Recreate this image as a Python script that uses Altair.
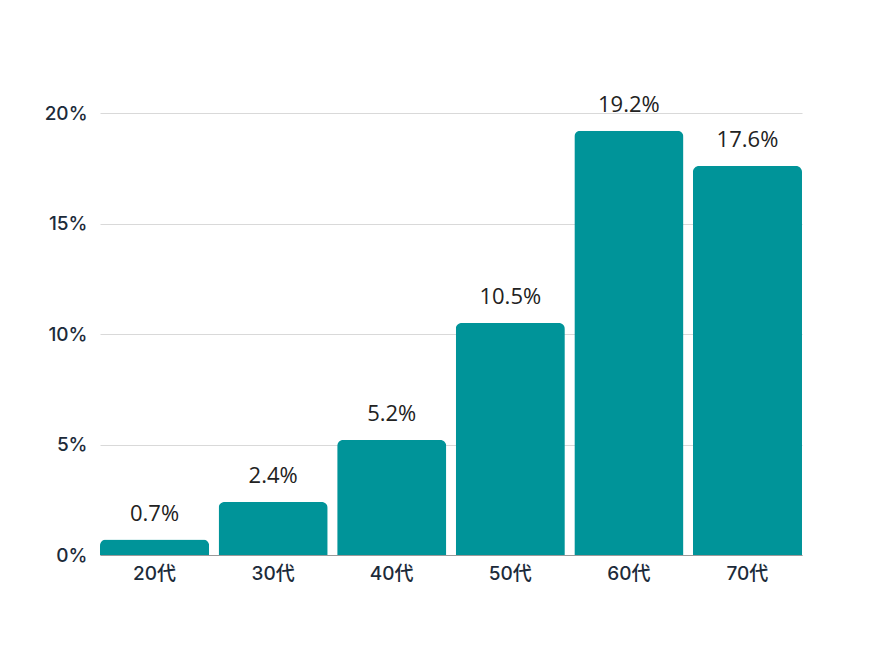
import altair as alt
import pandas as pd

categories = ["20代", "30代", "40代", "50代", "60代", "70代"]
values = [0.7, 2.4, 5.2, 10.5, 19.2, 17.6]
labels = ["0.7%", "2.4%", "5.2%", "10.5%", "19.2%", "17.6%"]

df = pd.DataFrame({"cat": categories, "val": values, "label": labels})

axis_font = "Inter, Noto Sans CJK JP"

x = alt.X("cat:N", sort=categories, title=None,
          scale=alt.Scale(paddingInner=0.08, paddingOuter=0),
          axis=alt.Axis(labelAngle=0, labelFont=axis_font, labelFontSize=19,
                        labelFontWeight=500, labelColor="#1c2b3a", labelPadding=9,
                        ticks=False, domain=True, domainColor="#9a9a9a", grid=False))
y = alt.Y("val:Q", title=None,
          scale=alt.Scale(domain=[0, 20], nice=False),
          axis=alt.Axis(values=[0, 5, 10, 15, 20], labelExpr="datum.value + '%'",
                        labelFont=axis_font, labelFontSize=19, labelFontWeight=500,
                        labelColor="#1c2b3a", labelPadding=13, ticks=False, domain=False,
                        grid=True, gridColor="#d9d9d9"))

bars = alt.Chart(df).mark_bar(color="#009499", cornerRadiusTopLeft=6, cornerRadiusTopRight=6).encode(x=x, y=y)
text = alt.Chart(df).mark_text(dy=-26, font="Open Sans", fontSize=22, color="#222222").encode(
    x=alt.X("cat:N", sort=categories), y=alt.Y("val:Q"), text="label:N")

chart = (bars + text).properties(
    width=702, height=442,
    background="white",
    padding={"left": 92, "top": 105, "right": 60, "bottom": 80},
    autosize=alt.AutoSizeParams(type="none"),
).configure_view(stroke=None, strokeWidth=0)

chart.save("out.html", embed_options={"renderer": "svg", "actions": False})
